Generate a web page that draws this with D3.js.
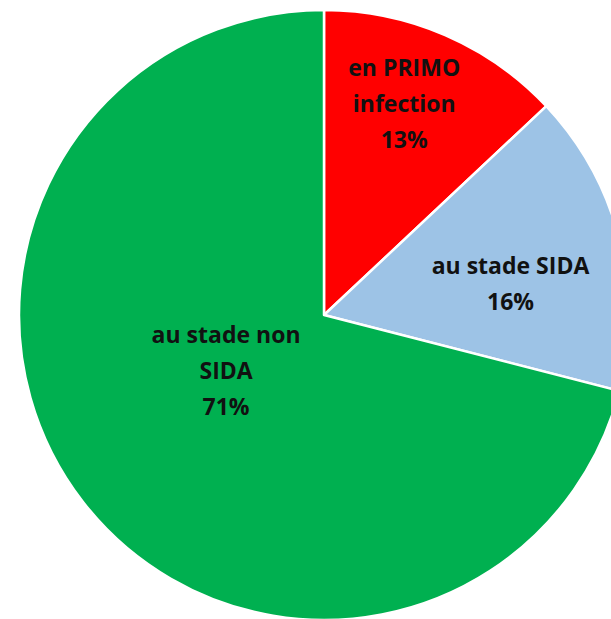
<!DOCTYPE html>
<html>
<head>
<meta charset="utf-8">
<script src="https://cdn.jsdelivr.net/npm/d3@7"></script>
<style>
    html, body { margin: 0; padding: 0; background: #fff; }
    svg { display: block; }
</style>
</head>
<body>
<div id="chart"></div>
<script>
// data
const categories = ['en PRIMO infection', 'au stade SIDA', 'au stade non SIDA']
const values = [13, 16, 71]
const labelLines = [
    ['en PRIMO', 'infection', '13%'],
    ['au stade SIDA', '16%'],
    ['au stade non', 'SIDA', '71%']
]
const colours = ['#ff0000', '#9dc3e6', '#00b050']

document.addEventListener('DOMContentLoaded', () => {
    const width = 611
    const height = 619
    const cx = 324
    const cy = 315
    const radius = 305
    const lineHeight = 36
    // label distance from centre, as a fraction of the radius
    const labelRadius = [0.74, 0.62, 0.37]
    const labelTurn = [-0.045, 0.085, 0.14]

    const svg = d3.select('#chart')
        .append('svg')
        .attr('width', width)
        .attr('height', height)

    const pie = d3.pie().sort(null).value(d => d)
    const arcs = pie(values)
    const arc = d3.arc().innerRadius(0).outerRadius(radius)

    const g = svg.append('g')
        .attr('transform', `translate(${cx}, ${cy})`)

    g.selectAll('path')
        .data(arcs)
        .enter()
        .append('path')
        .attr('d', arc)
        .attr('fill', (d, i) => colours[i])
        .attr('stroke', '#fff')
        .attr('stroke-width', 2.5)
        .attr('stroke-linejoin', 'round')

    const labels = g.selectAll('.label')
        .data(arcs)
        .enter()
        .append('text')
        .attr('class', 'label')
        .attr('text-anchor', 'middle')
        .style('font-family', '"Open Sans", Lato, sans-serif')
        .style('font-weight', 'bold')
        .style('font-size', '23px')
        .attr('fill', '#111')
        .attr('transform', (d, i) => {
            const a = (d.startAngle + d.endAngle) / 2 + labelTurn[i]
            const r = radius * labelRadius[i]
            const x = Math.sin(a) * r
            const y = -Math.cos(a) * r
            const offset = (labelLines[i].length - 1) * lineHeight / 2
            return `translate(${x}, ${y - offset})`
        })

    labels.selectAll('tspan')
        .data((d, i) => labelLines[i])
        .enter()
        .append('tspan')
        .attr('x', 0)
        .attr('dy', (d, i) => i === 0 ? '0.35em' : lineHeight)
        .text(d => d)
})
</script>
</body>
</html>
